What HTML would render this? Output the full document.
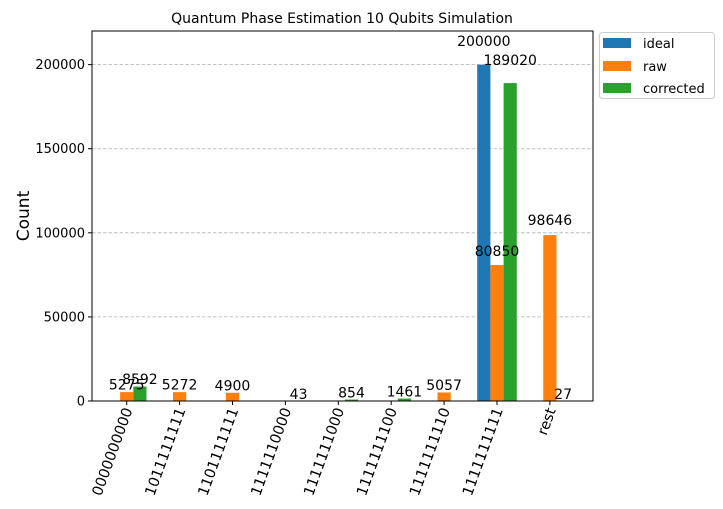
<!DOCTYPE html>
<html><head><meta charset="utf-8"><style>
body{margin:0;background:#fff;}
svg{display:block;font-family:"DejaVu Sans","Liberation Sans",sans-serif;}
</style></head><body>
<svg id="chart" width="723" height="509" xmlns="http://www.w3.org/2000/svg">
<rect x="0" y="0" width="723" height="509" fill="#fff"/>
<text x="342" y="23" font-size="14" text-anchor="middle">Quantum Phase Estimation 10 Qubits Simulation</text>
<text transform="translate(29,216) rotate(-90)" font-size="17" text-anchor="middle">Count</text>
<g id="grid"></g><g id="bars"></g><g id="labels"></g><g id="axes"></g>
<g>
<rect x="599.5" y="32.5" width="115" height="66" rx="3" fill="#fff" stroke="#ccc"/>
<rect x="603" y="38" width="28" height="10" fill="#1f77b4"/>
<text x="643" y="48" font-size="13">ideal</text>
<rect x="603" y="61" width="28" height="10" fill="#ff7f0e"/>
<text x="643" y="71" font-size="13">raw</text>
<rect x="603" y="83" width="28" height="10" fill="#2ca02c"/>
<text x="643" y="93" font-size="13">corrected</text>
</g>
</svg>
<script>
const categories=["0000000000","1011111111","1101111111","1111110000","1111111000","1111111100","1111111110","1111111111","rest"];
const ideal=[0,0,0,0,0,0,0,200000,0];
const raw=[5275,5272,4900,0,0,0,5057,80850,98646];
const corrected=[8592,0,0,43,854,1461,0,189020,27];
const yTicks=[0,50000,100000,150000,200000];
const seriesNames=["ideal","raw","corrected"];
const NS="http://www.w3.org/2000/svg";
const L=92,R=593,T=31,B=401,YMAX=220000;
const y=v=>B-(v/YMAX)*(B-T);
const step=52.9,x0=126.7;
const xc=i=>x0+i*step;
const bw=13.2;
function mk(tag,attrs,parent,text){const e=document.createElementNS(NS,tag);for(const k in attrs)e.setAttribute(k,attrs[k]);if(text!==undefined)e.textContent=text;parent.appendChild(e);return e;}
const grid=document.getElementById('grid'),bars=document.getElementById('bars'),labels=document.getElementById('labels'),axes=document.getElementById('axes');
yTicks.forEach(t=>{
 const g=mk('line',{x1:L,x2:R,y1:y(t),y2:y(t),stroke:'#b0b0b0','stroke-dasharray':'3.5,2','stroke-width':0.8},grid);
 
 
 const tk=mk('line',{x1:L-4,x2:L,y1:y(t),y2:y(t),stroke:'#000'},axes);
 
 
 const tl=mk('text',{x:L-7,y:y(t)+4.5,'font-size':13,'text-anchor':'end'},axes,String(t));
 
 
});
const series=[ideal,raw,corrected],colors=["#1f77b4","#ff7f0e","#2ca02c"];
series.forEach((s,si)=>{
 s.forEach((v,i)=>{
  const cx=xc(i)+(si-1)*bw;
  const r=mk('rect',{x:cx-bw/2,y:y(v),width:bw,height:B-y(v),fill:colors[si]},bars);
  
  
  if(v>0){
   const t=mk('text',{x:cx,y:y(v*1.05)-2,'font-size':14,'text-anchor':'middle'},labels,String(v));
   
   
  }
 });
});
mk('rect',{x:L,y:T,width:R-L,height:B-T,fill:'none',stroke:'#000','stroke-width':1},axes);
categories.forEach((c,i)=>{
 const tk=mk('line',{x1:xc(i),x2:xc(i),y1:B,y2:B+4,stroke:'#000'},axes);
 
 
 const tl=mk('text',{transform:`translate(${xc(i)+6},${B+9}) rotate(-70)`,'font-size':14.5,'text-anchor':'end'},axes,c);
 
 
});
</script>
</body></html>
